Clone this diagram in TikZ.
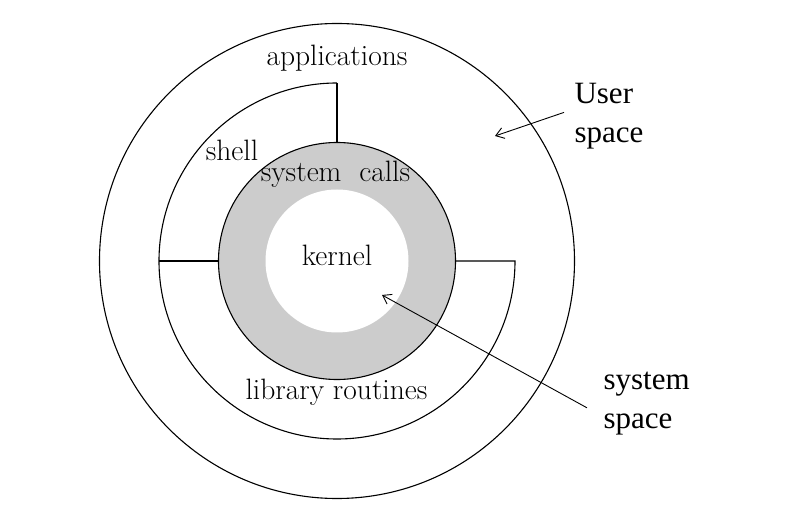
\documentclass[tikz,border=0pt]{standalone}
\usepackage{fontspec}
\usepackage{tikz}
\usetikzlibrary{arrows.meta,positioning}
\newfontfamily\sidefont{Liberation Serif}
\definecolor{ringgray}{HTML}{CCCCCC}

\begin{document}
\begin{tikzpicture}[x=1pt,y=1pt,line width=1.1pt,
  ringlabel/.style={font=\fontsize{29.5}{34}\selectfont,inner sep=0pt,anchor=base},
  sidelabel/.style={font=\sidefont\fontsize{31}{38.5}\selectfont,align=left,
    inner xsep=10pt,inner ysep=0pt,anchor=base west},
  pointer/.style={line width=0.9pt,-{Straight Barb[length=8pt,width=11pt]}}]
  \useasboundingbox (-337,-260) rectangle (465,261);
  % rings
  \draw (0,0) circle (237.5);
  \draw[fill=ringgray] (0,0) circle (118.5);
  \fill[white] (0,0) circle (71.5);
  \draw (0,178) arc (90:360:178) -- (118.5,0);
  \draw (-178,0) -- (-118.5,0);
  \draw (0,178) -- (0,118.5);
  % labels
  \node[ringlabel] (apps) at (0,195) {applications};
  \node[ringlabel] (shell) at (-105,100) {shell};
  \node[ringlabel] (calls) at (-1.5,79) {system\ \ calls};
  \node[ringlabel] (kernel) at (0,-5) {kernel};
  \node[ringlabel] (lib) at (-0.5,-139) {library routines};
  \node[sidelabel] (user) at (227,118.5) {User\\space};
  \node[sidelabel] (sys) at (256,-167.5) {system\\space};
  % pointers
  \coordinate (usertip) at (158,125);
  \coordinate (systip) at (45,-34);
  \draw[pointer] ([yshift=4pt]user.west) -- (usertip);
  \draw[pointer] ([xshift=-6pt,yshift=-4pt]sys.west) -- (systip);
\end{tikzpicture}
\end{document}
